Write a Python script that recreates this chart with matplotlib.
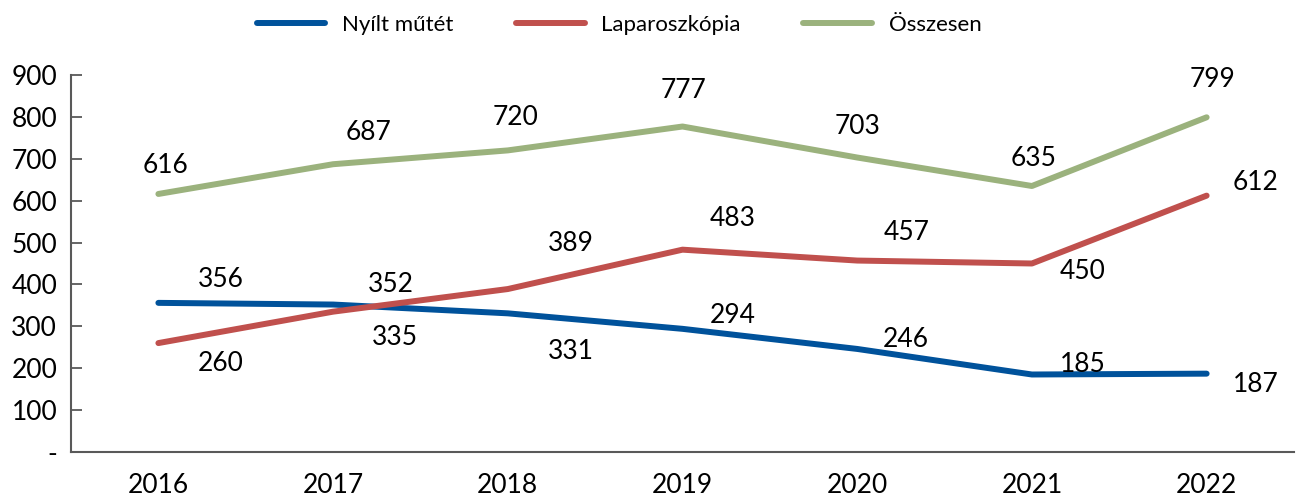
import matplotlib.pyplot as plt

years = ['2016', '2017', '2018', '2019', '2020', '2021', '2022']
nyilt = [356, 352, 331, 294, 246, 185, 187]
laparo = [260, 335, 389, 483, 457, 450, 612]
osszesen = [616, 687, 720, 777, 703, 635, 799]

# label offsets in pixels (dx, dy) relative to each point
nyilt_off = [(62, 23), (58, 20), (63, -38), (50, 13), (49, 9), (51, 10), (49, -11)]
laparo_off = [(62, -20), (62, -26), (63, 46), (50, 31), (49, 28), (51, -8), (49, 13)]
ossz_off = [(7, 28), (35, 32), (8, 33), (1, 36), (0, 31), (2, 28), (6, 38)]

plt.rcParams['font.family'] = ['Lato', 'DejaVu Sans']

fig = plt.figure(figsize=(13.01, 4.98), dpi=100)
ax = fig.add_axes([0.0546, 0.0924, 0.940, 0.757])

x = list(range(len(years)))
series = [
    (nyilt, 'Nyílt műtét', '#00529b', nyilt_off),
    (laparo, 'Laparoszkópia', '#c0504d', laparo_off),
    (osszesen, 'Összesen', '#9bb27d', ossz_off),
]
for vals, name, color, offs in series:
    ax.plot(x, vals, color=color, lw=4.3, label=name, solid_capstyle='round')
    for xi, v, (dx, dy) in zip(x, vals, offs):
        ax.annotate(str(v), (xi, v), xytext=(dx, dy), textcoords='offset pixels',
                    ha='center', va='center', fontsize=19, color='black')

ax.set_xlim(-0.5, 6.5)
ax.set_ylim(0, 900)
ax.set_xticks(x)
ax.set_xticklabels(years, fontsize=19)
ax.set_yticks(range(0, 1000, 100))
ax.set_yticklabels(['-'] + [str(v) for v in range(100, 1000, 100)], fontsize=19)
ax.tick_params(axis='x', length=0, pad=15)
ax.tick_params(axis='y', direction='in', length=8, width=1.3, color='#595959', pad=10)

for s in ['top', 'right']:
    ax.spines[s].set_visible(False)
for s in ['left', 'bottom']:
    ax.spines[s].set_color('#595959')
    ax.spines[s].set_linewidth(1.5)

ax.legend(loc='center', bbox_to_anchor=(0.448, 1.133), ncol=3, frameon=False,
          fontsize=16, handlelength=3.1, columnspacing=2.8, handletextpad=0.75)

fig.savefig('out.png', dpi=100)
